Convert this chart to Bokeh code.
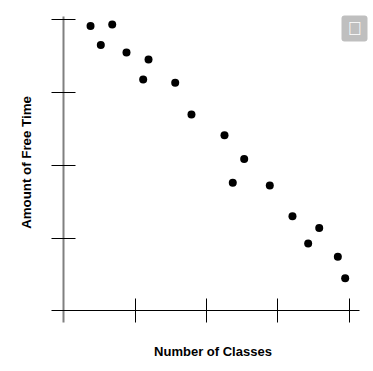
import math
from bokeh.plotting import figure
from bokeh.models import LinearAxis, FixedTicker, Range1d, BoxAnnotation, Label, CustomLabelingPolicy
from bokeh.embed import file_html
from bokeh.resources import INLINE

classes = [0.372, 0.676, 0.516, 0.876, 1.185, 1.110, 1.559, 1.787, 2.250,
           2.526, 2.366, 2.885, 3.203, 3.578, 3.423, 3.839, 3.942]
free_time = [3.917, 3.937, 3.656, 3.551, 3.455, 3.180, 3.138, 2.698, 2.413,
             2.087, 1.762, 1.721, 1.298, 1.137, 0.926, 0.743, 0.445]
x_ticks = [1, 2, 3, 4]
y_ticks = [0, 1, 2, 3, 4]
x_title = "Number of Classes"
y_title = "Amount of Free Time"

W, H = 373, 371
X0, SX = 63.5, 71.33   # screen position of x=0, px per unit
Y0, SY = 310.17, 72.67  # screen position of y=0, px per unit

p = figure(width=W, height=H, output_backend="svg", toolbar_location=None,
           x_axis_type=None, y_axis_type=None, min_border=0,
           x_range=Range1d(-X0 / SX, (W - X0) / SX),
           y_range=Range1d(-(H - Y0) / SY, Y0 / SY))
p.outline_line_color = None
p.background_fill_color = "white"
p.grid.visible = False

no_labels = CustomLabelingPolicy(code="for (const i of indices) indices.unset(i); return indices")


def style(ax, ticks, bounds):
    ax.ticker = FixedTicker(ticks=ticks)
    ax.bounds = bounds
    ax.fixed_location = 0
    ax.axis_line_color = "black"
    ax.axis_line_width = 1
    ax.major_tick_line_color = "black"
    ax.major_tick_line_width = 1
    ax.major_tick_in = 12
    ax.major_tick_out = 12
    ax.minor_tick_line_color = None
    ax.major_label_policy = no_labels


xa = LinearAxis()
style(xa, x_ticks, (-0.161, 4.142))
p.add_layout(xa, "below")
ya = LinearAxis()
style(ya, y_ticks, (-0.165, 4.05))
ya.fixed_location = -0.5 / SX
ya.axis_line_color = "#808080"
ya.axis_line_width = 2
p.add_layout(ya, "left")

p.scatter(classes, free_time, size=8, marker="circle",
          fill_color="black", line_color=None)

title_style = dict(x_units="screen", y_units="screen", text_color="black",
                   text_font="Liberation Sans", text_font_style="bold",
                   text_align="center", text_baseline="middle")
p.add_layout(Label(x=212.5, y=20, text=x_title, text_font_size="13px", **title_style))
p.add_layout(Label(x=26, y=209, text=y_title, angle=math.pi / 2,
                   text_font_size="13.3px", **title_style))

p.add_layout(BoxAnnotation(left=341, right=367, top=356, bottom=330,
                           left_units="screen", right_units="screen",
                           top_units="screen", bottom_units="screen",
                           fill_color="#bfbfbf", fill_alpha=1, line_color=None,
                           border_radius=3))
p.add_layout(Label(x=354, y=343, x_units="screen", y_units="screen",
                   text="\ue000", text_color="white", text_font_size="19px",
                   text_align="center", text_baseline="middle",
                   text_font="Liberation Sans"))

open("out.html", "w").write(file_html(p, INLINE))
